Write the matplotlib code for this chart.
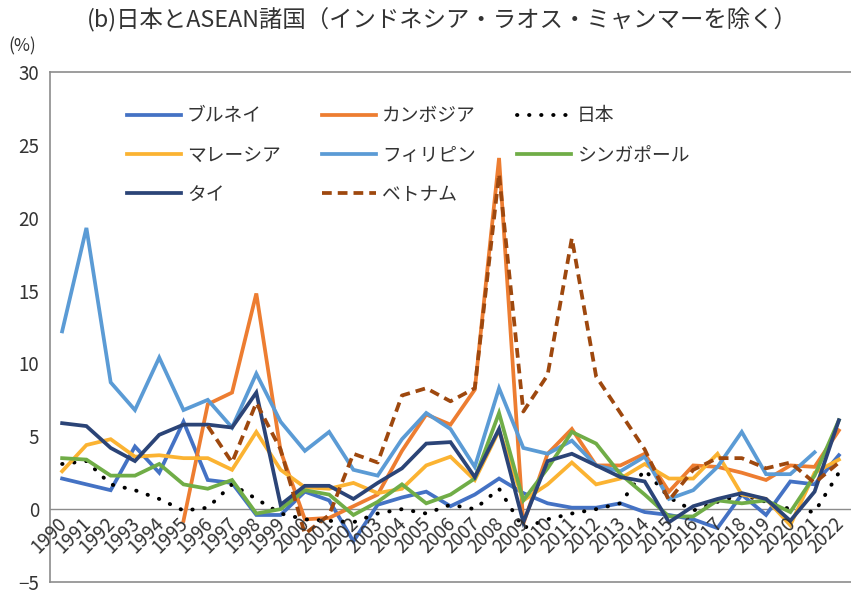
import numpy as np
import matplotlib.pyplot as plt

plt.rcParams['font.family'] = ['Noto Sans CJK JP', 'DejaVu Sans']

# データ（インフレ率、%）
years = np.arange(1990, 2023)
nan = np.nan

brunei = [2.1, 1.7, 1.3, 4.3, 2.5, 6.0, 2.0, 1.8, -0.4, -0.4, 1.2, 0.6, -2.2, 0.3, 0.8,
          1.2, 0.2, 1.0, 2.1, 1.1, 0.4, 0.1, 0.1, 0.4, -0.2, -0.4, -0.7, -1.3, 1.0, -0.4,
          1.9, 1.7, 3.7]
cambodia = [nan, nan, nan, nan, nan, -0.8, 7.2, 8.0, 14.8, 4.0, -0.7, -0.6, 0.2, 1.0, 4.0,
            6.5, 5.8, 8.2, 24.1, -1.0, 3.8, 5.5, 3.0, 3.0, 3.8, 1.2, 3.0, 2.9, 2.5, 2.0,
            3.0, 2.9, 5.4]
japan = [3.1, 3.3, 1.7, 1.3, 0.7, -0.1, 0.1, 1.7, 0.7, -0.3, -0.7, -0.8, -0.9, -0.3, 0.0,
         -0.3, 0.3, 0.0, 1.4, -1.3, -0.7, -0.3, 0.0, 0.4, 2.7, 0.8, -0.1, 0.5, 1.0, 0.5,
         0.0, -0.2, 2.5]
malaysia = [2.6, 4.4, 4.8, 3.6, 3.7, 3.5, 3.5, 2.7, 5.3, 2.7, 1.5, 1.4, 1.8, 1.1, 1.4,
            3.0, 3.6, 2.0, 5.4, 0.6, 1.7, 3.2, 1.7, 2.1, 3.1, 2.1, 2.1, 3.8, 1.0, 0.7,
            -1.1, 2.5, 3.4]
philippines = [12.2, 19.3, 8.7, 6.8, 10.4, 6.8, 7.5, 5.6, 9.3, 6.0, 4.0, 5.3, 2.7, 2.3, 4.8,
               6.6, 5.5, 2.9, 8.3, 4.2, 3.8, 4.7, 3.0, 2.6, 3.6, 0.7, 1.3, 2.9, 5.3, 2.4,
               2.4, 3.9, nan]
singapore = [3.5, 3.4, 2.3, 2.3, 3.1, 1.7, 1.4, 2.0, -0.3, 0.0, 1.3, 1.0, -0.4, 0.5, 1.7,
             0.4, 1.0, 2.1, 6.6, 0.6, 2.8, 5.3, 4.5, 2.4, 1.0, -0.5, -0.5, 0.6, 0.4, 0.6,
             -0.2, 2.3, 6.1]
thailand = [5.9, 5.7, 4.2, 3.3, 5.1, 5.8, 5.8, 5.6, 8.0, 0.3, 1.6, 1.6, 0.7, 1.8, 2.8,
            4.5, 4.6, 2.2, 5.5, -0.9, 3.3, 3.8, 3.0, 2.2, 1.9, -0.9, 0.2, 0.7, 1.1, 0.7,
            -0.8, 1.2, 6.1]
vietnam = [nan, nan, nan, nan, nan, nan, 5.7, 3.2, 7.3, 4.1, -1.7, -0.4, 3.8, 3.2, 7.8,
           8.3, 7.4, 8.3, 23.0, 6.7, 9.2, 18.6, 9.1, 6.6, 4.1, 0.6, 2.7, 3.5, 3.5, 2.8,
           3.2, 1.8, 3.2]

fig = plt.figure(figsize=(8.51, 5.93), dpi=100)
ax = fig.add_axes([50 / 851, 1 - 582 / 593, 801 / 851, 510 / 593])

x = np.arange(len(years))
lw = 2.7
l_bn, = ax.plot(x, brunei, color='#4472C4', lw=lw, label='ブルネイ', solid_joinstyle='miter')
l_kh, = ax.plot(x, cambodia, color='#ED7D31', lw=lw, label='カンボジア', solid_joinstyle='miter')
l_jp, = ax.plot(x, japan, color='black', lw=2.8, linestyle=(0, (0.1, 3.0)),
                dash_capstyle='round', label='日本')
l_my, = ax.plot(x, malaysia, color='#FBB332', lw=lw, label='マレーシア', solid_joinstyle='miter')
l_ph, = ax.plot(x, philippines, color='#5B9BD5', lw=lw, label='フィリピン', solid_joinstyle='miter')
l_sg, = ax.plot(x, singapore, color='#70AD47', lw=lw, label='シンガポール', solid_joinstyle='miter')
l_th, = ax.plot(x, thailand, color='#2B4477', lw=lw, label='タイ', solid_joinstyle='miter')
l_vn, = ax.plot(x, vietnam, color='#9E480E', lw=lw, linestyle=(0, (2.6, 1.6)),
                dash_capstyle='butt', label='ベトナム')

ax.axhline(0, color='#8c8c8c', lw=1.0, zorder=0)

ax.set_xlim(-0.5, len(years) - 0.5)
ax.set_ylim(-5, 30)
ax.set_yticks(np.arange(-5, 31, 5))
ax.tick_params(axis='y', length=0, pad=8, labelsize=13.5, labelcolor='#333333')
ax.set_xticks([])

for i, yr in enumerate(years):
    ax.annotate(str(yr), (x[i], 0), xytext=(-4, -3), textcoords='offset points',
                rotation=45, ha='right', va='top', rotation_mode='anchor',
                fontsize=13.5, color='#333333')

for s in ['left', 'top', 'bottom']:
    ax.spines[s].set_color('#8c8c8c')
    ax.spines[s].set_linewidth(1.2)
ax.spines['right'].set_visible(False)

handles = [l_bn, l_my, l_th, l_kh, l_ph, l_vn, l_jp, l_sg]
ax.legend(handles=handles, labels=[h.get_label() for h in handles], ncol=3,
          loc='upper left', bbox_to_anchor=(0.075, 0.968), frameon=False,
          fontsize=13.5, handlelength=2.9, handletextpad=0.3,
          labelspacing=0.98, columnspacing=2.2, labelcolor='#333333')

fig.text(0.52, 1 - 20 / 593, '(b)日本とASEAN諸国（インドネシア・ラオス・ミャンマーを除く）',
         ha='center', va='center', fontsize=16.8, color='#333333')
fig.text(8 / 851, 1 - 46 / 593, '(%)', ha='left', va='center', fontsize=12.5, color='#333333')

fig.savefig('out.png', dpi=100)
